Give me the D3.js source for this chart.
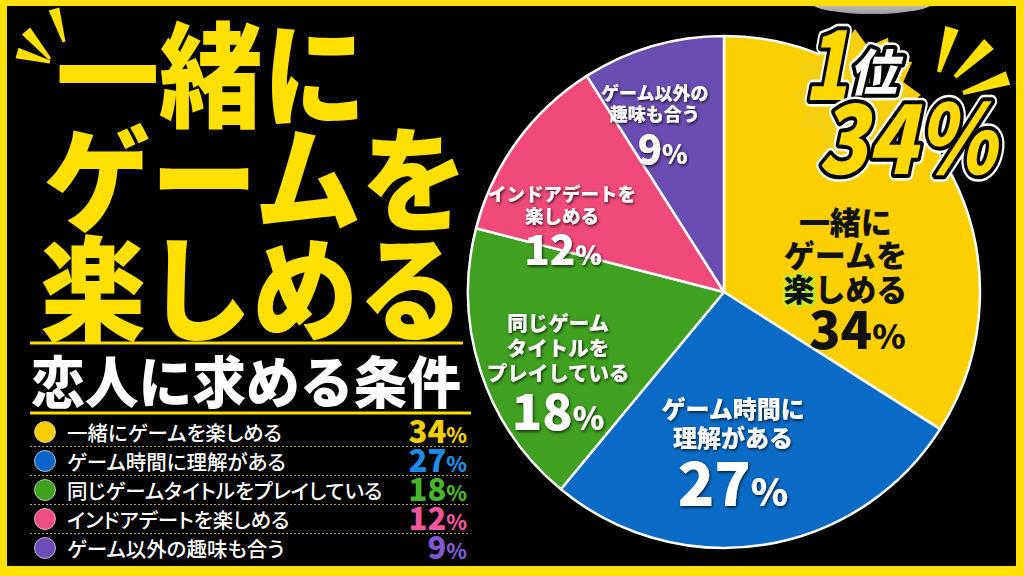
<!DOCTYPE html>
<html>
<head>
<meta charset="utf-8">
<style>
  body { margin: 0; background: #000; }
  svg { display: block; }
  text { font-family: "Noto Sans CJK JP", "Noto Sans", sans-serif; }
  .lg { font-feature-settings: "palt"; }
</style>
</head>
<body>
<svg width="1024" height="576"></svg>

<script src="https://d3js.org/d3.v7.min.js"></script>
<script>
// data
const categories = ["一緒にゲームを楽しめる", "ゲーム時間に理解がある", "同じゲームタイトルをプレイしている", "インドアデートを楽しめる", "ゲーム以外の趣味も合う"];
const shares = [34, 27, 18, 12, 9];
const sliceLabels = [
    ["一緒に", "ゲームを", "楽しめる"],
    ["ゲーム時間に", "理解がある"],
    ["同じゲーム", "タイトルを", "プレイしている"],
    ["インドアデートを", "楽しめる"],
    ["ゲーム以外の", "趣味も合う"]
];
const titleLines = ["一緒に", "ゲームを", "楽しめる"];
const subtitle = "恋人に求める条件";
const rankLabel = "位";

// colours
const sliceColors = ["#FCD000", "#0A6BC6", "#40A021", "#EF4A7A", "#6A4DB1"];
const legendColors = ["#F7CD00", "#0A66CA", "#3FA21E", "#EE4C82", "#6C4EB8"];
const pctColors = ["#F2CF00", "#1F8CE6", "#47B62A", "#F0559A", "#7D58CF"];

const W = 1024, H = 576;
const svg = d3.select("svg");

// shadow for the white pie labels
const defs = svg.append("defs");
const f = defs.append("filter").attr("id", "sh").attr("x", "-20%").attr("y", "-20%").attr("width", "140%").attr("height", "140%");
f.append("feDropShadow").attr("dx", 1).attr("dy", 1.5).attr("stdDeviation", 1.8)
    .attr("flood-color", "#000").attr("flood-opacity", 0.75);
const gr = defs.append("linearGradient").attr("id", "blob").attr("x1", 0).attr("x2", 0).attr("y1", 0).attr("y2", 1);
gr.append("stop").attr("offset", "0%").attr("stop-color", "#f6f6f6");
gr.append("stop").attr("offset", "100%").attr("stop-color", "#9a9a9a");

// frame
svg.append("rect").attr("width", W).attr("height", H).attr("fill", "#FFE000");
svg.append("rect").attr("x", 7).attr("y", 6).attr("width", 1009).attr("height", 560).attr("fill", "#000");

// greyish blob peeking under the top border
svg.append("ellipse").attr("cx", 872).attr("cy", 3).attr("rx", 60).attr("ry", 11).attr("fill", "url(#blob)");
svg.append("rect").attr("width", W).attr("height", 6).attr("fill", "#FFE000");

// tapered emphasis stroke
function wedge(x1, y1, x2, y2, w1, w2) {
    let dx = x2 - x1, dy = y2 - y1, L = Math.hypot(dx, dy);
    let nx = -dy / L, ny = dx / L;
    return [[x1 + nx * w1 / 2, y1 + ny * w1 / 2], [x2 + nx * w2 / 2, y2 + ny * w2 / 2],
            [x2 - nx * w2 / 2, y2 - ny * w2 / 2], [x1 - nx * w1 / 2, y1 - ny * w1 / 2]].join(" ");
}

// ---------- left side: title ----------
const left = svg.append("g");
[[64, 42, 54, 9], [50, 59, 26, 31], [50, 62, 17, 53]].forEach(r => {
    left.append("polygon").attr("points", wedge(r[0], r[1], r[2], r[3], 3, 11)).attr("fill", "#FFE000");
});

const titleX = [56, 44, 40];
const titleW = [310, 424, 424];
const titleY = [68, 172, 282];
left.selectAll(".title").data(titleLines).join("text")
    .attr("class", "title")
    .attr("x", (d, i) => titleX[i])
    .attr("y", (d, i) => titleY[i])
    .attr("dominant-baseline", "central")
    .attr("textLength", (d, i) => titleW[i])
    .attr("lengthAdjust", "spacingAndGlyphs")
    .attr("font-size", 114)
    .attr("font-weight", 900)
    .attr("fill", "#FFE000")
    .text(d => d);

left.append("line").attr("x1", 30).attr("x2", 463).attr("y1", 343).attr("y2", 343)
    .attr("stroke", "#FFE000").attr("stroke-width", 3);
left.append("text")
    .attr("x", 31).attr("y", 378)
    .attr("dominant-baseline", "central")
    .attr("textLength", 430).attr("lengthAdjust", "spacingAndGlyphs")
    .attr("font-size", 56).attr("font-weight", 900)
    .attr("fill", "#fff")
    .text(subtitle);
left.append("line").attr("x1", 30).attr("x2", 471).attr("y1", 413).attr("y2", 413)
    .attr("stroke", "#FFE000").attr("stroke-width", 3);

// legend
const rowY = d3.scalePoint().domain(categories).range([432, 548]);
const legend = left.selectAll(".row").data(categories).join("g")
    .attr("class", "row")
    .attr("transform", d => `translate(0,${rowY(d)})`);

legend.append("circle").attr("cx", 45).attr("r", 10.5)
    .attr("fill", (d, i) => legendColors[i])
    .attr("stroke", "#ddd").attr("stroke-width", 0.8);
legend.append("text")
    .attr("class", "lg")
    .attr("x", 67).attr("dominant-baseline", "central")
    .attr("font-size", 20.5).attr("font-weight", 500).attr("fill", "#fff")
    .text(d => d);
const pct = legend.append("text")
    .attr("x", 467).attr("y", 11)
    .attr("text-anchor", "end")
    .attr("font-weight", 900)
    .attr("fill", (d, i) => pctColors[i]);
pct.append("tspan").attr("font-size", 31).text((d, i) => shares[i]);
pct.append("tspan").attr("font-size", 21).text("%");

legend.filter((d, i) => i < categories.length - 1)
    .append("line")
    .attr("x1", 30).attr("x2", 470).attr("y1", 14.5).attr("y2", 14.5)
    .attr("stroke", "#b9a44a").attr("stroke-width", 1).attr("stroke-dasharray", "2,2");

// ---------- pie ----------
const cx = 724, cy = 292, R = 256;
const pie = d3.pie().sort(null).value(d => d);
const arcs = pie(shares);
const arc = d3.arc().innerRadius(0).outerRadius(R);
const pieG = svg.append("g").attr("transform", `translate(${cx},${cy})`);

pieG.selectAll(".slice").data(arcs).join("path")
    .attr("class", "slice")
    .attr("d", arc)
    .attr("fill", (d, i) => sliceColors[i])
    .attr("stroke", "#fff")
    .attr("stroke-width", 2.5)
    .attr("stroke-linejoin", "round");

// label styles per slice
const labelStyle = [
    { size: 31, lh: 33, gap: 43, val: 52, pc: 34, dx: -2, dy: 51, vdx: 12, fill: "#111" },
    { size: 24, lh: 29, gap: 48, val: 60, pc: 38, dx: -13, dy: 15, vdx: 0, fill: "#fff" },
    { size: 20.5, lh: 25, gap: 40, val: 50, pc: 32, dx: -32, dy: 31, vdx: 0, fill: "#fff" },
    { size: 18.5, lh: 22, gap: 35, val: 42, pc: 27, dx: -48, dy: 12, vdx: 1, fill: "#fff" },
    { size: 18, lh: 21, gap: 36, val: 40, pc: 26, dx: -30, dy: -36, vdx: 8, fill: "#fff" }
];
const labelArc = d3.arc().innerRadius(R * 0.55).outerRadius(R * 0.55);

arcs.forEach((a, i) => {
    let s = labelStyle[i];
    let c = labelArc.centroid(a);
    let x = c[0] + s.dx, y = c[1] + s.dy;
    let lines = sliceLabels[i];
    let total = (lines.length - 1) * s.lh + s.gap;
    let y0 = y - total / 2;
    let g = pieG.append("g").attr("filter", i === 0 ? null : "url(#sh)");

    lines.forEach((t, j) => {
        let tx = g.append("text")
            .attr("x", x).attr("y", y0 + j * s.lh)
            .attr("text-anchor", "middle")
            .attr("dominant-baseline", "central")
            .attr("font-size", s.size).attr("font-weight", 900)
            .attr("fill", s.fill);
        if (i === 0 && t === "楽しめる") {
            // green glow on the first character
            tx.append("tspan").text(t[0])
                .attr("stroke", "#B8EC3A").attr("stroke-width", 4)
                .attr("paint-order", "stroke").attr("stroke-linejoin", "round");
            tx.append("tspan").text(t.slice(1));
        } else {
            tx.text(t);
        }
    });

    let vy = y0 + total;
    let v = g.append("text")
        .attr("x", x + s.vdx).attr("y", vy + s.val * 0.365)
        .attr("text-anchor", "middle")
        .attr("font-weight", 900)
        .attr("fill", s.fill);
    v.append("tspan").attr("font-size", s.val).text(shares[i]);
    v.append("tspan").attr("font-size", s.pc).text("%");
});

// ---------- top-right badge ----------
const badge = svg.append("g");
const burst = d3.range(24).map(k => {
    let ang = k / 24 * Math.PI * 2;
    let rr = k % 2 === 0 ? 66 : 50;
    return [855 + rr * Math.cos(ang), 95 + rr * Math.sin(ang)];
});
badge.append("polygon").attr("points", burst.join(" ")).attr("fill", "#F6D010");

[[939, 72, 952, 28], [955, 77, 989, 44], [963, 93, 1008, 78]].forEach(r => {
    badge.append("polygon").attr("points", wedge(r[0], r[1], r[2], r[3], 4, 14)).attr("fill", "#FFE000");
});

function badgeText(x, y, size, str, fill, len) {
    const layers = [
        { stroke: "#fff", w: 13 },
        { stroke: "#000", w: 8 },
        { stroke: "none", w: 0 }
    ];
    layers.forEach(l => {
        badge.append("text")
            .attr("x", x).attr("y", y)
            .attr("font-size", size).attr("font-weight", 900)
            .attr("font-style", "italic")
            .attr("textLength", len)
            .attr("lengthAdjust", "spacingAndGlyphs")
            .attr("fill", l.stroke === "none" ? fill : l.stroke)
            .attr("stroke", l.stroke)
            .attr("stroke-width", l.w)
            .attr("stroke-linejoin", "round")
            .text(str);
    });
}

badgeText(804, 100, 96, String(1), "#FFD800", 44);
badgeText(849, 91, 50, rankLabel, "#fff", 48);
badgeText(818, 174, 96, shares[0] + "%", "#FFD800", 178);
</script>
</body>
</html>
